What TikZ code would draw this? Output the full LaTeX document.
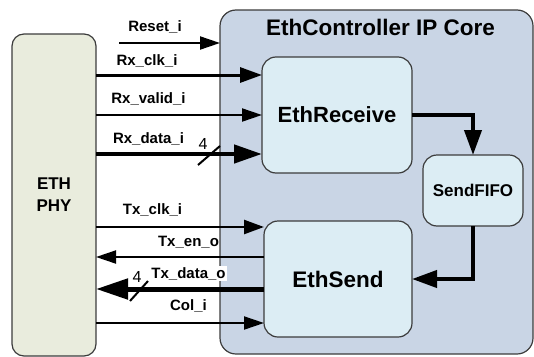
\documentclass[tikz,border=0pt]{standalone}
\usepackage{fontspec}
\setmainfont{Liberation Sans}
\usetikzlibrary{arrows.meta}

\definecolor{phyfill}{RGB}{233,236,221}
\definecolor{corefill}{RGB}{201,213,229}
\definecolor{blkfill}{RGB}{220,237,244}
\definecolor{edge}{RGB}{60,60,60}

\tikzset{
  box/.style={draw=edge,line width=1.2pt,rounded corners=14pt,inner sep=0pt,outer sep=0pt},
  lbl/.style={font=\fontsize{15}{17}\selectfont\bfseries,inner sep=0pt,anchor=base},
  wid/.style={font=\fontsize{16}{18}\selectfont,inner sep=0pt,anchor=base},
  sig/.style={line width=2pt,-{Triangle[length=20pt,width=13pt]}},
  bus/.style={line width=4.5pt,-{Triangle[length=28pt,width=18pt]}},
}

\begin{document}
\begin{tikzpicture}[x=1pt,y=-1pt]
  \useasboundingbox (0,0) rectangle (534,356);

  % blocks
  \node[box,fill=phyfill,rounded corners=12pt,minimum width=84pt,minimum height=322pt,
        align=center,font=\fontsize{17}{22}\selectfont\bfseries] (phy) at (54,195) {ETH\\PHY};
  \node[box,fill=corefill,rounded corners=16pt,minimum width=313pt,minimum height=344pt] (core) at (376.5,182) {};
  \node[font=\fontsize{22.5}{26}\selectfont\bfseries,inner sep=0pt,anchor=base west] (title) at (266,35) {EthController IP Core};
  \node[box,fill=blkfill,minimum width=150pt,minimum height=116pt,font=\fontsize{22}{26}\selectfont\bfseries] (rx) at (337,115) {EthReceive};
  \node[box,fill=blkfill,minimum width=100pt,minimum height=71pt,font=\fontsize{17}{20}\selectfont\bfseries] (fifo) at (473,190.5) {SendFIFO};
  \node[box,fill=blkfill,minimum width=148pt,minimum height=116pt,font=\fontsize{22.5}{26}\selectfont\bfseries] (tx) at (338,279) {EthSend};

  % internal data path
  \draw[line width=4pt,-{Triangle[length=25pt,width=17pt]}] (rx.east) -| (fifo.north);
  \draw[line width=4pt,-{Triangle[length=25pt,width=17pt]}] (fifo.south) |- (tx.east);

  % receive side
  \coordinate (rst) at (119,43);
  \draw[sig] (rst) -- (core.west |- rst);
  \node[lbl] (lrst) at (155,31) {Reset\_i};
  \draw[sig,line width=3pt,-{Triangle[length=22pt,width=15pt]}] (phy.east |- 0,75) -- (rx.west |- 0,75);
  \node[lbl] (lrxclk) at (147,65) {Rx\_clk\_i};
  \draw[sig] (phy.east |- 0,115) -- (rx.west |- 0,115);
  \node[lbl] (lrxval) at (148.5,103) {Rx\_valid\_i};
  \draw[bus] (phy.east |- 0,154) -- (rx.west |- 0,154);
  \node[lbl] (lrxdat) at (148.5,143) {Rx\_data\_i};
  \draw[line width=2pt] (198,165) -- (220,146);
  \node[wid] (wrx) at (203,149) {4};

  % transmit side
  \draw[sig,line width=2.5pt,-{Triangle[length=20pt,width=14pt]}] (phy.east |- 0,227) -- (tx.west |- 0,227);
  \node[lbl] (ltxclk) at (152.5,214) {Tx\_clk\_i};
  \draw[sig] (tx.west |- 0,257) -- (phy.east |- 0,257);
  \node[lbl] (ltxen) at (188.5,246) {Tx\_en\_o};
  \draw[bus,line width=5pt,-{Triangle[length=32pt,width=20pt]}] (tx.west |- 0,289) -- (phy.east |- 0,289);
  \draw[line width=2pt] (130,301) -- (148,281);
  \node[wid] (wtx) at (137,282) {4};
  \node[lbl,fill=white,inner sep=1pt] (ltxdat) at (188.5,278) {Tx\_data\_o};
  \draw[sig] (phy.east |- 0,323) -- (tx.west |- 0,323);
  \node[lbl] (lcol) at (188.5,310) {Col\_i};
\end{tikzpicture}
\end{document}
